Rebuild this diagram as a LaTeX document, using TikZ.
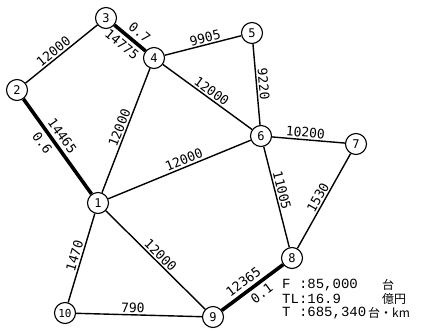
\documentclass[tikz,border=0pt]{standalone}
\usepackage{fontspec}
\setmonofont{Liberation Mono}
\newfontfamily\numfont{DejaVu Sans Mono}
\newfontfamily\cjk{Noto Sans CJK JP}

\begin{document}
\begin{tikzpicture}[x=1pt, y=-1pt,
	stn/.style={circle, draw, line width=1.1pt, fill=white, inner sep=0pt, minimum size=21pt, font=\numfont\fontsize{12}{12}\selectfont},
	link/.style={line width=1.4pt},
	heavy/.style={line width=3.6pt},
	val/.style={sloped, inner sep=1.5pt, font=\numfont\fontsize{13}{13}\selectfont},
	hval/.style={val, inner sep=3.5pt},
	note/.style={anchor=west, inner sep=0pt, font=\ttfamily\fontsize{14}{14}\selectfont},
	unit/.style={anchor=west, inner sep=0pt, font=\cjk\fontsize{12}{12}\selectfont}]
	\useasboundingbox (0,0) rectangle (426,330); % Rand um Grafik
	
	% Knoten
	\node[stn] (s1) at (98,203) {1};
	\node[stn] (s2) at (17,90) {2};
	\node[stn] (s3) at (106,18) {3};
	\node[stn] (s4) at (154,58) {4};
	\node[stn] (s5) at (252,33) {5};
	\node[stn] (s6) at (261,136) {6};
	\node[stn] (s7) at (356,144) {7};
	\node[stn] (s8) at (292,258) {8};
	\node[stn] (s9) at (213,317) {9};
	\node[stn, font=\numfont\fontsize{11}{11}\selectfont] (s10) at (65,313) {10};
	
	% Strecken
	\draw[link] (s2) -- node[val, above, pos=.45] {12000} (s3);
	\draw[heavy] (s3) -- node[hval, above, pos=.6] {0.7} node[hval, below, pos=.45] {14775} (s4);
	\draw[link] (s4) -- node[val, above, pos=.55] {9905} (s5);
	\draw[link] (s4) -- node[val, above, pos=.5] {12000} (s6);
	\draw[link] (s5) -- node[val, above, pos=.5] {9220} (s6);
	\draw[heavy] (s2) -- node[hval, above, pos=.45] {14465} node[hval, below, pos=.4] {0.6} (s1);
	\draw[link] (s1) -- node[val, above, pos=.5] {12000} (s4);
	\draw[link] (s1) -- node[val, above, pos=.55] {12000} (s6);
	\draw[link] (s6) -- node[val, above, pos=.45] {10200} (s7);
	\draw[link] (s6) -- node[val, above, pos=.45] {11005} (s8);
	\draw[link] (s8) -- node[val, above, pos=.5] {1530} (s7);
	\draw[link] (s1) -- node[val, above, pos=.5] {12000} (s9);
	\draw[link] (s10) -- node[val, above, pos=.5] {1470} (s1);
	\draw[link] (s10) -- node[val, above, pos=.45] {790} (s9);
	\draw[heavy] (s9) -- node[hval, above, pos=.45] {12365} node[hval, below, pos=.55] {0.1} (s8);
	
	% Kennzahlen
	\node[note] (fval) at (282,285) {F :85,000};
	\node[unit] (funit) at (382,285) {台};
	\node[note] (tlval) at (282,299) {TL:16.9};
	\node[unit] (tlunit) at (382,299) {億円};
	\node[note] (tval) at (282,313) {T :685,340};
	\node[unit] (tunit) at (368,313) {台・km};
\end{tikzpicture}
\end{document}
